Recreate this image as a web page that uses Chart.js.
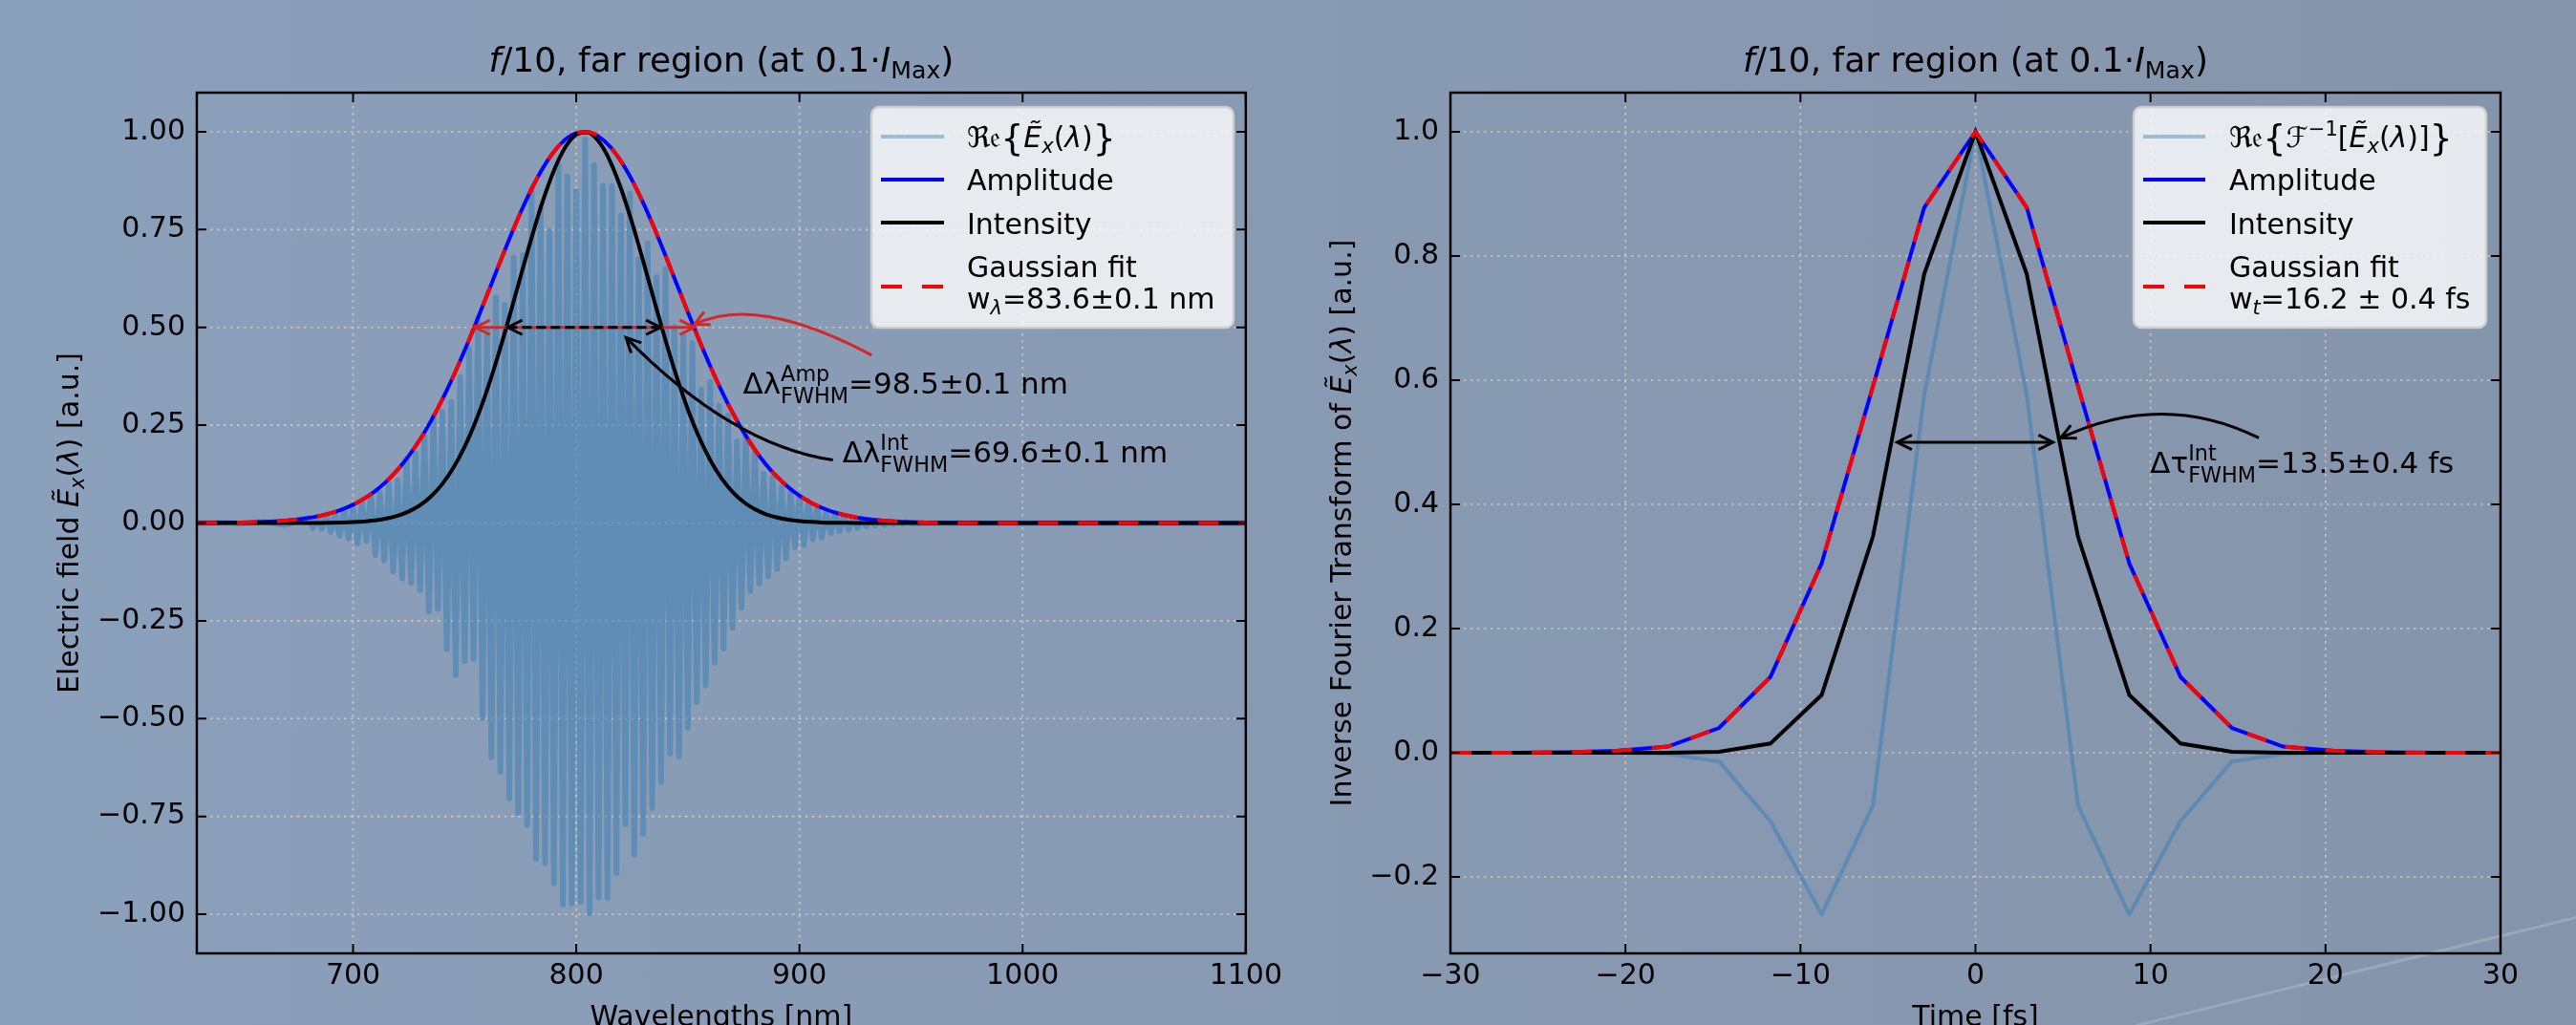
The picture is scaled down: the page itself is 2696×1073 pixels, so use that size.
<!DOCTYPE html>
<html><head><meta charset="utf-8">
<script src="https://cdn.jsdelivr.net/npm/chart.js@4.4.1/dist/chart.umd.min.js"></script>
<style>
html,body{margin:0;padding:0;width:2696px;height:1073px;overflow:hidden;}
body{background:linear-gradient(90deg,#8ba0bb 0%,#8899b2 55%,#8495ab 100%);position:relative;}
canvas{position:absolute;top:0;}
#c1{left:0;}
#c2{left:1348px;}
#streak{position:absolute;left:2236px;top:1072px;width:480px;height:3px;background:rgba(255,255,255,0.18);transform-origin:0 50%;transform:rotate(-13.8deg);}
</style></head><body>
<div id="streak"></div>
<canvas id="c1" width="1348" height="1073"></canvas>
<canvas id="c2" width="1348" height="1073"></canvas>
<script>
// ---------------- DATA (left panel: spectral domain) ----------------
const wavelengths = [630,650,655,660,665,670,675,680,685,690,695,700,705,710,715,720,725,730,735,740,745,750,755,760,765,770,775,780,785,790,795,800,805,810,815,820,825,830,835,840,845,850,855,860,865,870,875,880,885,890,895,900,905,910,915,920,925,930,935,940,945,950,960,980,1100];
const amplitudeL = [0,0.0012,0.0018,0.0028,0.0042,0.0061,0.0089,0.0128,0.0181,0.0252,0.0346,0.0468,0.0625,0.0822,0.1066,0.1364,0.1719,0.2136,0.2616,0.3159,0.3761,0.4413,0.5106,0.5823,0.6547,0.7256,0.7929,0.8540,0.9068,0.9492,0.9796,0.9965,0.9994,0.9880,0.9629,0.9251,0.8763,0.8182,0.7531,0.6834,0.6113,0.5391,0.4686,0.4016,0.3393,0.2826,0.2320,0.1878,0.1498,0.1179,0.0914,0.0698,0.0527,0.0391,0.0286,0.0207,0.0147,0.0103,0.0071,0.0049,0.0033,0.0022,0.0009,0.0001,0];
const intensityL = [0,0,0,0,0,0,0.0001,0.0002,0.0003,0.0006,0.0012,0.0022,0.0039,0.0068,0.0114,0.0186,0.0296,0.0456,0.0684,0.0998,0.1415,0.1948,0.2607,0.3391,0.4286,0.5265,0.6287,0.7293,0.8223,0.9010,0.9596,0.9930,0.9988,0.9761,0.9272,0.8558,0.7679,0.6694,0.5672,0.4670,0.3737,0.2906,0.2196,0.1613,0.1151,0.0799,0.0538,0.0353,0.0224,0.0139,0.0084,0.0049,0.0028,0.0015,0.0008,0.0004,0.0002,0.0001,0,0,0,0,0,0,0];
const gaussFitL = [0,0.0012,0.0018,0.0028,0.0042,0.0061,0.0089,0.0128,0.0181,0.0252,0.0346,0.0468,0.0625,0.0822,0.1066,0.1364,0.1719,0.2136,0.2616,0.3159,0.3761,0.4413,0.5106,0.5823,0.6547,0.7256,0.7929,0.8540,0.9068,0.9492,0.9796,0.9965,0.9994,0.9880,0.9629,0.9251,0.8763,0.8182,0.7531,0.6834,0.6113,0.5391,0.4686,0.4016,0.3393,0.2826,0.2320,0.1878,0.1498,0.1179,0.0914,0.0698,0.0527,0.0391,0.0286,0.0207,0.0147,0.0103,0.0071,0.0049,0.0033,0.0022,0.0009,0.0001,0];
const reWavelengths = [630,640,650,660,670,
680,682,684,686,688,690,692,694,696,698,
700,702,704,706,708,710,712,714,716,718,
720,722,724,726,728,730,732,734,736,738,
740,742,744,746,748,750,752,754,756,758,
760,762,764,766,768,770,772,774,776,778,
780,782,784,786,788,790,792,794,796,798,
800,802,804,806,808,810,812,814,816,818,
820,822,824,826,828,830,832,834,836,838,
840,842,844,846,848,850,852,854,856,858,
860,862,864,866,868,870,872,874,876,878,
880,882,884,886,888,890,892,894,896,898,
900,902,904,906,908,910,912,914,916,918,
920,922,924,926,928,930,932,934,936,938,
940,942,944,946,948,950,960,1100];
const reFieldL = [0,0.001,-0.001,0.003,-0.005,
0.013,-0.013,0.016,-0.015,0.022,-0.023,0.024,-0.033,0.033,-0.039,
0.037,-0.053,0.053,-0.046,0.070,-0.082,0.078,-0.096,0.101,-0.124,
0.109,-0.142,0.164,-0.153,0.177,-0.171,0.220,-0.226,0.272,-0.220,
0.284,-0.322,0.309,-0.389,0.373,-0.353,0.445,-0.348,0.525,-0.498,
0.495,-0.599,0.576,-0.636,0.558,-0.704,0.678,-0.741,0.685,-0.772,
0.854,-0.859,0.807,-0.870,0.747,-0.921,0.915,-0.975,0.886,-0.972,
0.847,-0.969,0.980,-0.998,0.915,-0.958,0.862,-0.959,0.861,-0.895,
0.786,-0.771,0.842,-0.848,0.674,-0.794,0.714,-0.728,0.629,-0.662,
0.649,-0.589,0.501,-0.597,0.483,-0.523,0.460,-0.458,0.341,-0.415,
0.361,-0.357,0.299,-0.321,0.274,-0.268,0.209,-0.217,0.223,-0.174,
0.178,-0.155,0.126,-0.136,0.117,-0.118,0.091,-0.091,0.078,-0.062,
0.066,-0.056,0.056,-0.042,0.040,-0.037,0.028,-0.027,0.027,-0.021,
0.018,-0.017,0.014,-0.013,0.011,-0.009,0.008,-0.007,0.006,-0.005,
0.004,-0.003,0.003,-0.002,0.002,-0.001,0,0];
const xTicksL = [700,800,900,1000,1100];
const yTicksL = [-1,-0.75,-0.5,-0.25,0,0.25,0.5,0.75,1];

// ---------------- DATA (right panel: time domain) ----------------
const timesR = [-32.23,-29.30,-26.37,-23.44,-20.51,-17.58,-14.65,-11.72,-8.79,-5.86,-2.93,0,2.93,5.86,8.79,11.72,14.65,17.58,20.51,23.44,26.37,29.30,32.23];
const reFieldR = [0,0,0,0,0,-0.002,-0.014,-0.11,-0.26,-0.085,0.576,1.0,0.576,-0.085,-0.26,-0.11,-0.014,-0.002,0,0,0,0,0];
const amplitudeR = [0,0,0,0.001,0.003,0.01,0.04,0.122,0.305,0.59,0.878,1.0,0.878,0.59,0.305,0.122,0.04,0.01,0.003,0.001,0,0,0];
const intensityR = [0,0,0,0,0,0.0001,0.0016,0.0149,0.093,0.348,0.771,1.0,0.771,0.348,0.093,0.0149,0.0016,0.0001,0,0,0,0,0];
const gaussFitR = [0,0,0,0.001,0.003,0.01,0.04,0.122,0.305,0.59,0.878,1.0,0.878,0.59,0.305,0.122,0.04,0.01,0.003,0.001,0,0,0];
const xTicksR = [-30,-20,-10,0,10,20,30];
const yTicksR = [-0.2,0,0.2,0.4,0.6,0.8,1.0];

// ---------------- helpers ----------------
const FONT = '"DejaVu Sans"';
Chart.defaults.font.family = FONT;
const T = (t, o = {}) => Object.assign({t}, o);
const MINUS = '\u2212';
const fmt = d => v => (v < 0 ? MINUS : '') + Math.abs(v).toFixed(d);

function fontStr(seg, size) {
  const sz = size * (seg.s || 1);
  return (seg.it ? 'italic ' : '') + sz.toFixed(1) + 'px ' + (seg.f ? '"' + seg.f + '", ' : '') + FONT;
}
function segWidth(ctx, seg, size) {
  if (seg.stack) return Math.max(...seg.stack.map(s => segWidth(ctx, s, size)));
  ctx.font = fontStr(seg, size);
  return ctx.measureText(seg.t).width + (seg.pad || 0);
}
function drawRich(ctx, segs, x, y, size, align) {
  const w = segs.reduce((a, s) => a + segWidth(ctx, s, size), 0);
  let cx = align === 'center' ? x - w / 2 : x;
  ctx.textAlign = 'left'; ctx.textBaseline = 'alphabetic';
  for (const s of segs) {
    const parts = s.stack ? s.stack : [s];
    for (const p of parts) { ctx.font = fontStr(p, size); ctx.fillText(p.t, cx, y + (p.dy || 0)); }
    cx += segWidth(ctx, s, size);
  }
}
function head(ctx, tx, ty, fx, fy, len = 17, ang = 0.46) {
  const a = Math.atan2(ty - fy, tx - fx);
  ctx.save(); ctx.setLineDash([]);
  ctx.beginPath();
  ctx.moveTo(tx - len * Math.cos(a - ang), ty - len * Math.sin(a - ang));
  ctx.lineTo(tx, ty);
  ctx.lineTo(tx - len * Math.cos(a + ang), ty - len * Math.sin(a + ang));
  ctx.stroke(); ctx.restore();
}
function dblArrow(ctx, x0, x1, y, dash) {
  ctx.save();
  ctx.setLineDash(dash || []);
  ctx.beginPath(); ctx.moveTo(x0, y); ctx.lineTo(x1, y); ctx.stroke();
  ctx.restore();
  head(ctx, x0, y, x1, y); head(ctx, x1, y, x0, y);
}
function curveArrow(ctx, p0, c, p1) {
  ctx.beginPath(); ctx.moveTo(p0[0], p0[1]); ctx.quadraticCurveTo(c[0], c[1], p1[0], p1[1]); ctx.stroke();
  head(ctx, p1[0], p1[1], c[0], c[1]);
}
function drawLegend(ctx, L) {
  ctx.save();
  ctx.beginPath(); ctx.roundRect(L.x, L.y, L.w, L.h, 8);
  ctx.fillStyle = 'rgba(255,255,255,0.8)'; ctx.fill();
  ctx.strokeStyle = 'rgba(205,205,205,0.95)'; ctx.lineWidth = 2.5; ctx.stroke();
  L.rows.forEach(r => {
    ctx.save();
    ctx.strokeStyle = r.color; ctx.lineWidth = 4; ctx.setLineDash(r.dash || []);
    ctx.beginPath(); ctx.moveTo(L.hx0, r.hy); ctx.lineTo(L.hx1, r.hy); ctx.stroke();
    ctx.restore();
    ctx.fillStyle = '#000';
    r.lines.forEach(ln => drawRich(ctx, ln.segs, L.tx, ln.y, 30, 'left'));
  });
  ctx.restore();
}

const decor = cfg => ({
  id: 'decor',
  beforeDatasetsDraw(chart) {
    const {ctx, chartArea: a, scales: {x, y}} = chart;
    ctx.save();
    ctx.strokeStyle = 'rgba(232,218,196,0.72)';
    ctx.lineWidth = 1.6; ctx.setLineDash([2.5, 4.5]);
    cfg.xTicks.forEach(v => { const p = x.getPixelForValue(v); ctx.beginPath(); ctx.moveTo(p, a.top); ctx.lineTo(p, a.bottom); ctx.stroke(); });
    cfg.yTicks.forEach(v => { const p = y.getPixelForValue(v); ctx.beginPath(); ctx.moveTo(a.left, p); ctx.lineTo(a.right, p); ctx.stroke(); });
    ctx.restore();
  },
  afterDatasetsDraw(chart) {
    const {ctx, chartArea: a, scales: {x, y}} = chart;
    const X = v => x.getPixelForValue(v), Y = v => y.getPixelForValue(v);
    ctx.save();
    ctx.lineWidth = 3; ctx.lineCap = 'butt';
    cfg.annotate(ctx, X, Y);
    // frame and inward ticks
    ctx.strokeStyle = '#000'; ctx.setLineDash([]); ctx.lineWidth = 2.5;
    ctx.strokeRect(a.left, a.top, a.right - a.left, a.bottom - a.top);
    ctx.lineWidth = 2;
    cfg.xTicks.forEach(v => { const p = X(v); ctx.beginPath(); ctx.moveTo(p, a.bottom); ctx.lineTo(p, a.bottom - 10); ctx.moveTo(p, a.top); ctx.lineTo(p, a.top + 10); ctx.stroke(); });
    cfg.yTicks.forEach(v => { const p = Y(v); ctx.beginPath(); ctx.moveTo(a.left, p); ctx.lineTo(a.left + 10, p); ctx.moveTo(a.right, p); ctx.lineTo(a.right - 10, p); ctx.stroke(); });
    // titles
    ctx.fillStyle = '#000';
    const cxm = (a.left + a.right) / 2;
    drawRich(ctx, cfg.title, cxm, 75, 36, 'center');
    drawRich(ctx, cfg.xTitle, cxm, 1074, 30, 'center');
    ctx.save(); ctx.translate(cfg.yTitleX, (a.top + a.bottom) / 2); ctx.rotate(-Math.PI / 2);
    drawRich(ctx, cfg.yTitle, 0, 0, 30, 'center'); ctx.restore();
    drawLegend(ctx, cfg.legend);
    ctx.restore();
  }
});

const pts = (xs, ys) => xs.map((v, i) => ({x: v, y: ys[i]}));
function makeChart(id, c) {
  return new Chart(document.getElementById(id), {
    type: 'line',
    data: {datasets: [
      {label: 'Re', data: pts(c.xs2, c.re), borderColor: 'rgba(70,130,180,0.62)', borderWidth: c.reWidth, pointRadius: 0, tension: 0, borderJoinStyle: 'round', borderCapStyle: 'round', order: 4},
      {label: 'Amplitude', data: pts(c.xs, c.amp), borderColor: '#0000ff', borderWidth: 4, pointRadius: 0, cubicInterpolationMode: c.smooth ? 'monotone' : 'default', tension: 0, order: 3},
      {label: 'Intensity', data: pts(c.xs, c.int), borderColor: '#000000', borderWidth: 4, pointRadius: 0, cubicInterpolationMode: c.smooth ? 'monotone' : 'default', tension: 0, order: 2},
      {label: 'Gaussian fit', data: pts(c.xs, c.fit), borderColor: '#ff0000', borderWidth: 4, borderDash: [21, 21], pointRadius: 0, cubicInterpolationMode: c.smooth ? 'monotone' : 'default', tension: 0, order: 1}
    ]},
    options: {
      responsive: false, animation: false, devicePixelRatio: 1, events: [],
      layout: {padding: {left: 0, top: 97, right: c.padRight, bottom: 0}},
      plugins: {legend: {display: false}, tooltip: {enabled: false}, title: {display: false}},
      scales: {
        x: {type: 'linear', min: c.xmin, max: c.xmax,
            afterBuildTicks: s => { s.ticks = c.xTicks.map(v => ({value: v})); },
            afterFit: s => { s.height = 75; },
            grid: {display: false, drawTicks: false}, border: {display: false},
            ticks: {color: '#000', font: {size: 30}, padding: 6, maxRotation: 0, autoSkip: false, callback: fmt(0)}},
        y: {type: 'linear', min: c.ymin, max: c.ymax,
            afterBuildTicks: s => { s.ticks = c.yTicks.map(v => ({value: v})); },
            afterFit: s => { s.width = c.yWidth; },
            grid: {display: false, drawTicks: false}, border: {display: false},
            ticks: {color: '#000', font: {size: 30}, padding: 12, autoSkip: false, callback: fmt(c.yDec)}}
      }
    },
    plugins: [decor(c)]
  });
}

const titleSegs = [T('f', {it: 1}), T('/10, far region (at 0.1\u00b7'), T('I', {it: 1}), T('Max', {s: 0.7, dy: 7}), T(')')];
const Ex = [T('\u1ebc', {it: 1}), T('x', {it: 1, s: 0.7, dy: 6}), T('('), T('\u03bb', {it: 1}), T(')')];
const Re = T('\u211c\ud835\udd22', {f: 'DejaVu Serif'});
const lb = T('{', {s: 1.25, dy: 3}), rb = T('}', {s: 1.25, dy: 3});
const supsub = (a, b) => ({stack: [T(a, {s: 0.72, dy: -13}), T(b, {s: 0.72, dy: 10})]});

makeChart('c1', {
  xs: wavelengths, amp: amplitudeL, int: intensityL, fit: gaussFitL, xs2: reWavelengths, re: reFieldL,
  reWidth: 6, smooth: true,
  xmin: 630, xmax: 1100, ymin: -1.1, ymax: 1.1, xTicks: xTicksL, yTicks: yTicksL, yDec: 2,
  yWidth: 206, padRight: 42,
  title: titleSegs,
  xTitle: [T('Wavelengths [nm]')],
  yTitle: [T('Electric field ')].concat(Ex, [T(' [a.u.]')]),
  yTitleX: 82,
  legend: {x: 912, y: 112, w: 379, h: 231, hx0: 922, hx1: 988, tx: 1012, rows: [
    {color: '#9dbdd6', hy: 143, lines: [{y: 154, segs: [Re, lb].concat(Ex, [rb])}]},
    {color: '#0000ff', hy: 188, lines: [{y: 199, segs: [T('Amplitude')]}]},
    {color: '#000000', hy: 233, lines: [{y: 245, segs: [T('Intensity')]}]},
    {color: '#ff0000', hy: 300, dash: [22, 21], lines: [{y: 290, segs: [T('Gaussian fit')]}, {y: 323, segs: [T('w'), T('\u03bb', {it: 1, s: 0.7, dy: 6}), T('=83.6\u00b10.1 nm')]}]}
  ]},
  annotate(ctx, X, Y) {
    ctx.strokeStyle = '#d62728';
    dblArrow(ctx, X(754.8), X(852.9), Y(0.5));
    curveArrow(ctx, [X(932.4), Y(0.429)], [X(880.6), Y(0.586)], [X(852.9), Y(0.507)]);
    ctx.strokeStyle = '#000';
    dblArrow(ctx, X(769.3), X(837.8), Y(0.5), [10, 5]);
    curveArrow(ctx, [X(915.0), Y(0.161)], [X(869.7), Y(0.199)], [X(822.3), Y(0.474)]);
    ctx.fillStyle = '#000';
    drawRich(ctx, [T('\u0394\u03bb'), supsub('Amp', 'FWHM'), T('=98.5\u00b10.1 nm')], X(874.7), Y(0.331), 31, 'left');
    drawRich(ctx, [T('\u0394\u03bb'), supsub('Int', 'FWHM'), T('=69.6\u00b10.1 nm')], X(919.3), Y(0.155), 31, 'left');
  }
});

makeChart('c2', {
  xs: timesR, amp: amplitudeR, int: intensityR, fit: gaussFitR, xs2: timesR, re: reFieldR,
  reWidth: 4, smooth: false,
  xmin: -30, xmax: 30, ymin: -0.323, ymax: 1.063, xTicks: xTicksR, yTicks: yTicksR, yDec: 1,
  yWidth: 170, padRight: 79,
  title: titleSegs,
  xTitle: [T('Time [fs]')],
  yTitle: [T('Inverse Fourier Transform of ')].concat(Ex, [T(' [a.u.]')]),
  yTitleX: 66,
  legend: {x: 885, y: 112, w: 369, h: 231, hx0: 895, hx1: 960, tx: 985, rows: [
    {color: '#9dbdd6', hy: 143, lines: [{y: 154, segs: [Re, lb, T('\u2131', {it: 1, f: 'DejaVu Serif'}), T(MINUS + '1', {s: 0.7, dy: -12}), T('[')].concat(Ex, [T(']'), rb])}]},
    {color: '#0000ff', hy: 188, lines: [{y: 199, segs: [T('Amplitude')]}]},
    {color: '#000000', hy: 233, lines: [{y: 245, segs: [T('Intensity')]}]},
    {color: '#ff0000', hy: 300, dash: [22, 21], lines: [{y: 290, segs: [T('Gaussian fit')]}, {y: 323, segs: [T('w'), T('t', {it: 1, s: 0.7, dy: 6}), T('=16.2 \u00b1 0.4 fs')]}]}
  ]},
  annotate(ctx, X, Y) {
    ctx.strokeStyle = '#000';
    dblArrow(ctx, X(-4.47), X(4.43), Y(0.5));
    curveArrow(ctx, [X(16.19), Y(0.507)], [X(10.71), Y(0.584)], [X(4.87), Y(0.507)]);
    ctx.fillStyle = '#000';
    drawRich(ctx, [T('\u0394\u03c4'), supsub('Int', 'FWHM'), T('=13.5\u00b10.4 fs')], X(9.98), Y(0.451), 31, 'left');
  }
});
</script></body></html>
